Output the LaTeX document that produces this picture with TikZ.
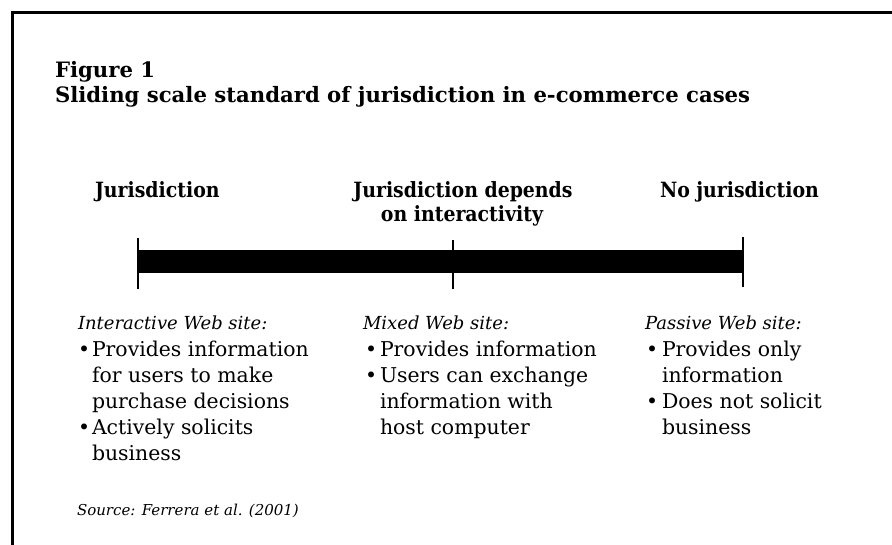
\documentclass[tikz,border=0pt]{standalone}
\usepackage{fontspec}
\setmainfont{DejaVu Serif}
\newfontfamily\labelfont{DejaVu Serif Condensed}
\begin{document}
\begin{tikzpicture}[x=1pt,y=-1pt,
  every node/.style={inner sep=0pt, outer sep=0pt},
  titletext/.style={anchor=base west, font=\fontsize{21.2}{25}\selectfont\bfseries},
  scalelabel/.style={font=\labelfont\fontsize{21}{25}\selectfont\bfseries},
  colhead/.style={anchor=base west, font=\fontsize{18}{24}\selectfont\itshape},
  item/.style={anchor=base west, font=\fontsize{20.4}{24}\selectfont},
  dot/.style={anchor=base west, font=\fontsize{20.4}{24}\selectfont},
  srctext/.style={anchor=base west, font=\fontsize{15}{18}\selectfont\itshape},
  frame/.style={line width=3pt, line join=miter},
  tick/.style={line width=2.8pt}]
\useasboundingbox (0,0) rectangle (892,545);

% open frame: left and top rules
\draw[frame] (12,545) -- (12,13) -- (892,13);

% title
\node[titletext] (fig) at (55,78) {Figure 1};
\node[titletext] (title) at (55,103) {Sliding scale standard of jurisdiction in e-commerce cases};

% labels above the scale
\node[scalelabel, anchor=base west] (jur) at (95,198) {Jurisdiction};
\node[scalelabel, anchor=base] (dep1) at (463,198) {Jurisdiction depends};
\node[scalelabel, anchor=base] (dep2) at (462,222) {on interactivity};
\node[scalelabel, anchor=base west] (nojur) at (660,198) {No jurisdiction};

% the sliding scale bar with its three ticks
\coordinate (sL) at (138,261.5);
\coordinate (sM) at (453,261.5);
\coordinate (sR) at (743,261.5);
\fill ([yshift=-11.5pt]sL) rectangle ([yshift=11.5pt]sR);
\draw[tick] ([yshift=-28pt]sL) -- ([yshift=23.5pt]sL);
\draw[tick] ([yshift=-28pt]sM) -- ([yshift=21pt]sM);
\draw[tick] ([yshift=-26pt]sR) -- ([yshift=24.5pt]sR);

% column 1: interactive site
\node[colhead] (h1) at (78,330) {Interactive Web site:};
\node[dot] (b1a) at (78,356) {•};
\node[item] (t1a) at (92,356) {Provides information};
\node[item] (t1b) at (92,382) {for users to make};
\node[item] (t1c) at (92,408) {purchase decisions};
\node[dot] (b1b) at (78,434) {•};
\node[item] (t1d) at (92,434) {Actively solicits};
\node[item] (t1e) at (92,460) {business};

% column 2: mixed site
\node[colhead] (h2) at (363,330) {Mixed Web site:};
\node[dot] (b2a) at (365,356) {•};
\node[item] (t2a) at (380,356) {Provides information};
\node[dot] (b2b) at (365,382) {•};
\node[item] (t2b) at (380,382) {Users can exchange};
\node[item] (t2c) at (380,408) {information with};
\node[item] (t2d) at (380,434) {host computer};

% column 3: passive site
\node[colhead] (h3) at (645,330) {Passive Web site:};
\node[dot] (b3a) at (646,356) {•};
\node[item] (t3a) at (662,356) {Provides only};
\node[item] (t3b) at (662,382) {information};
\node[dot] (b3b) at (646,408) {•};
\node[item] (t3c) at (662,408) {Does not solicit};
\node[item] (t3d) at (662,434) {business};

% source line
\node[srctext] (src) at (77,515) {Source: Ferrera et al. (2001)};
\end{tikzpicture}
\end{document}
